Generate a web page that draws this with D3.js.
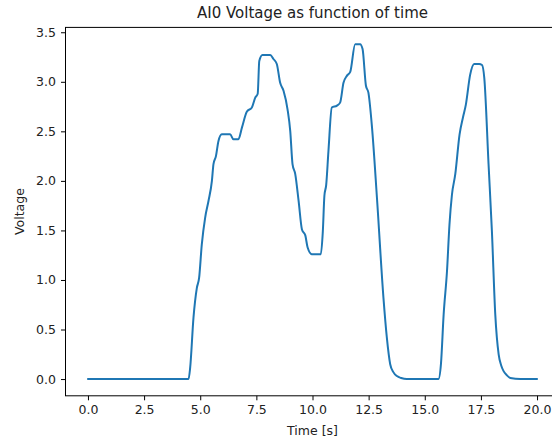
<!DOCTYPE html>
<html>
<head>
<meta charset="utf-8">
<script src="https://cdn.jsdelivr.net/npm/d3@7"></script>
<style>
  html, body { margin: 0; padding: 0; background: #fff; }
  svg { display: block; font-family: "DejaVu Sans", sans-serif; }
</style>
</head>
<body>
<div id="chart"></div>
<script>
const times = [
  0, 4.48, 4.55, 4.70, 4.85, 4.95, 5.07, 5.22, 5.37, 5.52, 5.59, 5.70, 5.81, 5.96,
  6.33, 6.48, 6.70, 6.86, 7.08, 7.30, 7.45, 7.56, 7.63, 7.77, 8.12, 8.26, 8.41,
  8.56, 8.71, 8.89, 9.01, 9.11, 9.23, 9.38, 9.53, 9.68, 9.78, 9.97, 10.37, 10.46,
  10.53, 10.61, 10.71, 10.86, 11.09, 11.23, 11.38, 11.53, 11.68, 11.90, 12.12,
  12.23, 12.38, 12.49, 12.65, 12.87, 13.16, 13.31, 13.46, 13.60, 13.76, 13.95,
  14.20, 15.61, 15.72, 15.84, 15.99, 16.10, 16.21, 16.36, 16.55, 16.70, 16.83,
  17.02, 17.20, 17.42, 17.55, 17.65, 17.84, 17.99, 18.14, 18.29, 18.40, 18.51,
  18.65, 18.81, 19.26, 20.0
];
const voltage = [
  0, 0, 0.11, 0.62, 0.92, 1.02, 1.36, 1.63, 1.80, 2.00, 2.17, 2.25, 2.40, 2.47,
  2.47, 2.42, 2.42, 2.54, 2.70, 2.74, 2.84, 2.88, 3.21, 3.27, 3.27, 3.23, 3.18,
  2.99, 2.91, 2.72, 2.50, 2.17, 2.07, 1.80, 1.51, 1.45, 1.33, 1.26, 1.26, 1.49,
  1.85, 1.96, 2.30, 2.74, 2.76, 2.79, 2.99, 3.06, 3.10, 3.38, 3.38,
  3.33, 2.96, 2.89, 2.54, 1.83, 0.82, 0.42, 0.15, 0.07, 0.03, 0.01,
  0, 0, 0.15, 0.65, 1.09, 1.56, 1.86, 2.07, 2.47, 2.64, 2.77,
  3.07, 3.18, 3.18, 3.17, 3.04, 2.17, 1.49, 0.65, 0.25, 0.14, 0.08,
  0.04, 0.01, 0, 0
];
const xTicks = [0, 2.5, 5, 7.5, 10, 12.5, 15, 17.5, 20];
const yTicks = [0, 0.5, 1, 1.5, 2, 2.5, 3, 3.5];

const width = 552, height = 441;
const margin = { top: 27.4, left: 65.5 };
const plotW = 494, plotH = 368.4;

const data = times.map((t, i) => ({ t: t, v: voltage[i] }));

// matplotlib-style 5% padding
const xExt = d3.extent(times), yExt = d3.extent(voltage);
const xPad = (xExt[1] - xExt[0]) * 0.05, yPad = (yExt[1] - yExt[0]) * 0.05;

const x = d3.scaleLinear()
  .domain([xExt[0] - xPad, xExt[1] + xPad])
  .range([margin.left, margin.left + plotW]);
const y = d3.scaleLinear()
  .domain([yExt[0] - yPad, yExt[1] + yPad])
  .range([margin.top + plotH, margin.top]);

const svg = d3.select('#chart').append('svg')
  .attr('width', width)
  .attr('height', height);

// line
svg.append('path')
  .datum(data)
  .attr('fill', 'none')
  .attr('stroke', '#1f77b4')
  .attr('stroke-width', 2)
  .attr('stroke-linejoin', 'round')
  .attr('stroke-linecap', 'round')
  .attr('d', d3.line().curve(d3.curveMonotoneX).x(d => x(d.t)).y(d => y(d.v)));

// axes
const xAxis = svg.append('g')
  .attr('transform', `translate(0,${margin.top + plotH})`)
  .call(d3.axisBottom(x).tickValues(xTicks).tickFormat(d3.format('.1f')).tickSizeOuter(0).tickSize(4.5).tickPadding(5));
const yAxis = svg.append('g')
  .attr('transform', `translate(${margin.left},0)`)
  .call(d3.axisLeft(y).tickValues(yTicks).tickFormat(d3.format('.1f')).tickSizeOuter(0).tickSize(4.5).tickPadding(5));

[xAxis, yAxis].forEach(a => {
  a.select('.domain').remove();
  a.selectAll('line').attr('stroke', '#000').attr('stroke-width', 1);
  a.selectAll('text')
    .attr('fill', '#222')
    .style('font-size', '12.5px')
    .style('font-family', '"DejaVu Sans", sans-serif');
});

// frame
svg.append('rect')
  .attr('x', margin.left)
  .attr('y', margin.top)
  .attr('width', plotW)
  .attr('height', plotH)
  .attr('fill', 'none')
  .attr('stroke', '#000')
  .attr('stroke-width', 1);

// title & labels
svg.append('text')
  .attr('x', margin.left + plotW / 2)
  .attr('y', 18)
  .attr('text-anchor', 'middle')
  .style('font-size', '15px')
  .attr('fill', '#222')
  .text('AI0 Voltage as function of time');

svg.append('text')
  .attr('x', margin.left + plotW / 2)
  .attr('y', 435)
  .attr('text-anchor', 'middle')
  .style('font-size', '12.5px')
  .attr('fill', '#222')
  .text('Time [s]');

svg.append('text')
  .attr('transform', `translate(24,${margin.top + plotH / 2}) rotate(-90)`)
  .attr('text-anchor', 'middle')
  .style('font-size', '12.5px')
  .attr('fill', '#222')
  .text('Voltage');
</script>
</body>
</html>
